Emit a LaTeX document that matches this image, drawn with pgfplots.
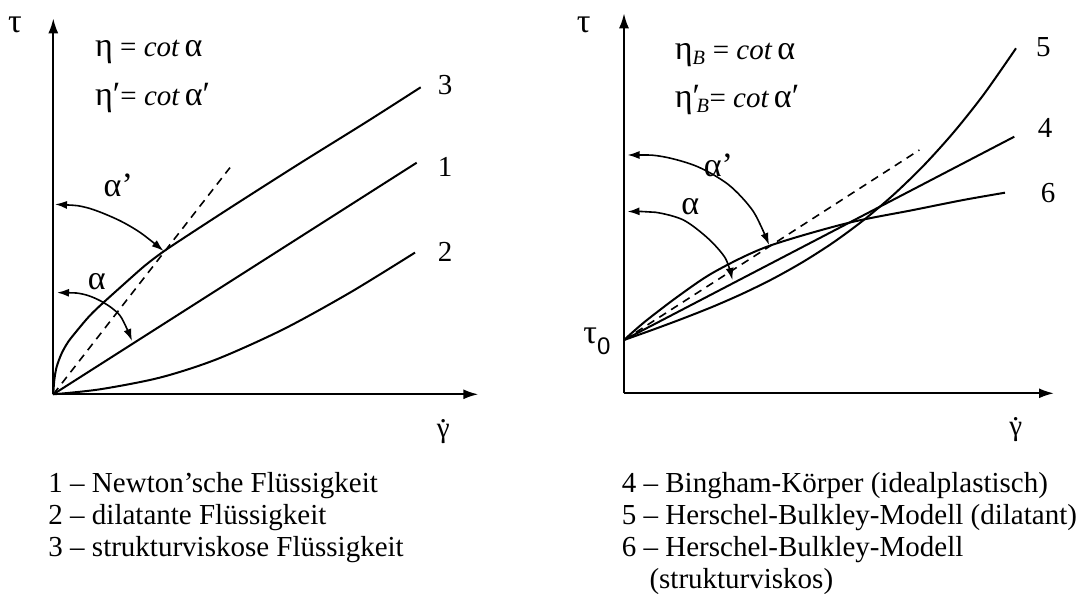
\documentclass[border=0pt]{standalone}
\usepackage{fontspec}
\setmainfont{Liberation Serif}
\newfontfamily\sansf{Liberation Sans}
\usepackage{pgfplots}
\pgfplotsset{compat=1.18}
\usetikzlibrary{arrows.meta}

% Greek letters are set a little larger than the Latin text
\newcommand\gk[1]{{\fontsize{34}{34}\selectfont #1}}
% shear rate symbol: gamma with a dot above
\newcommand\gdot{\ooalign{γ\cr\hidewidth\raisebox{0.52em}{.}\hidewidth\cr}}

\pgfplotsset{
  rheo/.style={
    x=1pt, y=1pt, xmin=0, ymin=0,
    axis lines=left, clip=false,
    xtick=\empty, ytick=\empty,
    axis line style={line width=2pt, -{Latex[length=15pt,width=10pt]}},
    anchor=south west,
  },
  curve/.style={black, line width=2pt, no marks},
  tang/.style={black, line width=1.6pt, dash pattern=on 8pt off 6pt, no marks},
  angarc/.style={black, line width=1.6pt, no marks, smooth,
    {Latex[length=12pt,width=8pt]}-{Latex[length=12pt,width=8pt]}},
}

\begin{document}
\begin{tikzpicture}[font=\fontsize{29}{32}\selectfont]
\useasboundingbox (0,0) rectangle (1088pt,594pt);

% ---- left: Newtonian, dilatant, shear-thinning fluids ----
\begin{axis}[rheo, at={(53.3pt,199.7pt)}, xmax=425, ymax=376]
  % 1 - Newtonian
  \addplot[curve] coordinates {(0,0) (363.4,231.6)};
  % 3 - shear-thinning
  \addplot[curve, smooth] coordinates {
    (0,0) (1,14.3) (3.4,27.6) (8.4,41) (15,52.6) (24,64) (35,77)
    (46.7,88.6) (76.7,115.6) (92,129) (108.4,141.5) (130,156) (180,188.5)
    (246.7,231) (313.4,272.5) (367.4,307)};
  % 2 - dilatant
  \addplot[curve, smooth] coordinates {
    (0,0) (46.7,5) (106.7,16.7) (163.3,35) (230,65) (296.7,101.7) (361.7,141.7)};
  % secant
  \addplot[tang] coordinates {(0,0) (176.7,226.7)};
  % angles
  \addplot[angarc] coordinates {(1.7,190) (33.3,186.7) (63.7,175) (87,161.7) (110.3,143.3)};
  \addplot[angarc] coordinates {(3.7,101.7) (30.3,100) (50.3,91.7) (67,78.3) (78.7,53.3)};

  \node at (axis cs:-38.3,369.3) {\gk{τ}};
  \node at (axis cs:390,-37) {\gdot};
  \node[anchor=west, inner sep=0] at (axis cs:41.7,342.6) {\gk{η} = \textit{cot}\,\gk{α}};
  \node[anchor=west, inner sep=0] at (axis cs:41.7,296) {\gk{η′}= \textit{cot}\,\gk{α′}};
  \node at (axis cs:65,209.3) {\gk{α’}};
  \node at (axis cs:43.4,112.6) {\gk{α}};
  \node at (axis cs:391.7,309.3) {3};
  \node at (axis cs:391.7,227.6) {1};
  \node at (axis cs:391.7,142.6) {2};
\end{axis}

% ---- right: Bingham and Herschel-Bulkley bodies ----
\begin{axis}[rheo, at={(624pt,200.7pt)}, xmax=430, ymax=380]
  % 4 - Bingham
  \addplot[curve] coordinates {(0,53.3) (390.3,256.6)};
  % 5 - Herschel-Bulkley, dilatant
  \addplot[curve, smooth] coordinates {
    (0,53.3) (30,64.0) (60,75.2) (90,87.1) (120,100.3) (150,115.1)
    (180,132.0) (210,151.3) (240,173.5) (270,199.0) (300,228.1)
    (330,261.4) (360,299.2) (392,345)};
  % 6 - Herschel-Bulkley, shear-thinning
  \addplot[curve, smooth] coordinates {
    (0,53.3) (21,71.7) (55.9,98.3) (90.9,121.7) (143.3,146.7)
    (222.7,170) (289.3,183.3) (339.3,193.3) (381,200.6)};
  % secant
  \addplot[tang] coordinates {(0,53.3) (295.4,243.3)};
  % angles
  \addplot[angarc] coordinates {(3.5,238.3) (38.5,236.7) (73.4,226.7) (104.9,208.3) (129.4,181.7) (145.1,148.3)};
  \addplot[angarc] coordinates {(3.5,181.7) (31.5,181) (59.4,173.3) (83.9,155) (101.4,135) (108.4,113.3)};

  \node at (axis cs:-40.2,368.3) {\gk{τ}};
  \node at (axis cs:-27,52) {\gk{τ}\raisebox{-0.35em}{\sansf\fontsize{24}{24}\selectfont 0}};
  \node at (axis cs:391.7,-36) {\gdot};
  \node[anchor=west, inner sep=0] at (axis cs:50.7,338.3) {\gk{η}\textsubscript{\textit{B}} = \textit{cot}\,\gk{α}};
  \node[anchor=west, inner sep=0] at (axis cs:50.7,293.3) {\gk{η′}\kern-0.12em\textsubscript{\textit{B}}= \textit{cot}\,\gk{α′}};
  \node at (axis cs:94.4,228.3) {\gk{α’}};
  \node at (axis cs:66.4,186.6) {\gk{α}};
  \node at (axis cs:419.3,346.6) {5};
  \node at (axis cs:421,265) {4};
  \node at (axis cs:424,200) {6};
\end{axis}

% ---- captions ----
\begin{scope}[every node/.style={anchor=base west, inner sep=0}]
  \node at (48.3pt,101pt) {1 – Newton’sche Flüssigkeit};
  \node at (48.3pt,69.3pt) {2 – dilatante Flüssigkeit};
  \node at (48.3pt,37.6pt) {3 – strukturviskose Flüssigkeit};
  \node at (621.7pt,101pt) {4 – Bingham-Körper (idealplastisch)};
  \node at (621.7pt,69.3pt) {5 – Herschel-Bulkley-Modell (dilatant)};
  \node at (621.7pt,37.6pt) {6 – Herschel-Bulkley-Modell};
  \node at (649.3pt,5.9pt) {(strukturviskos)};
\end{scope}
\end{tikzpicture}
\end{document}
